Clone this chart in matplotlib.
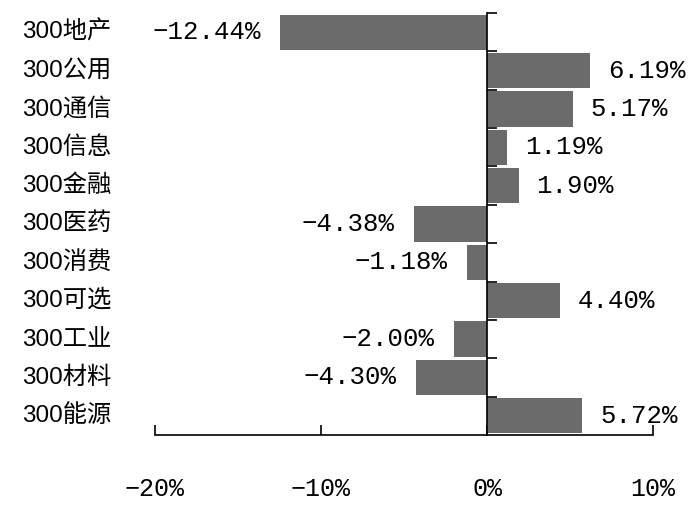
import numpy as np
import matplotlib
matplotlib.use("Agg")
import matplotlib.pyplot as plt
from matplotlib.ticker import FixedLocator

# data (top to bottom)
categories = ["300地产", "300公用", "300通信", "300信息", "300金融", "300医药",
              "300消费", "300可选", "300工业", "300材料", "300能源"]
returns = [-12.44, 6.19, 5.17, 1.19, 1.90, -4.38, -1.18, 4.40, -2.00, -4.30, 5.72]
xticks = [-20, -10, 0, 10]

num_font = ["Liberation Mono", "DejaVu Sans Mono"]
cat_font = ["Liberation Sans", "Noto Sans CJK SC"]
bar_color = "#6b6b6b"


def pct(v, fmt):
    # long minus sign like the original
    return (fmt % v).replace("-", "\u2212") + "%"


fig = plt.figure(figsize=(7.0, 5.15), dpi=100)
ax = fig.add_axes([155 / 700, 1 - 435 / 515, 498 / 700, 422 / 515])

y = np.arange(len(categories))
ax.barh(y, returns, height=0.92, color=bar_color, zorder=2)

ax.set_xlim(-20, 10)
ax.set_ylim(len(categories) - 0.5, -0.5)

# spines: vertical one at zero, bottom one as the value axis
ax.spines["top"].set_visible(False)
ax.spines["right"].set_visible(False)
ax.spines["left"].set_position(("data", 0))
for s in ("left", "bottom"):
    ax.spines[s].set_linewidth(1.2)
    ax.spines[s].set_color("black")
    ax.spines[s].set_zorder(3)

ax.set_xticks(xticks)
ax.set_xticklabels([pct(v, "%d") for v in xticks], fontsize=18, family=num_font)
ax.tick_params(axis="x", direction="in", length=7, width=1.2, pad=30)

ax.yaxis.set_major_locator(FixedLocator(np.arange(-0.5, len(categories) - 0.5, 1)))
ax.set_yticklabels([])
ax.tick_params(axis="y", direction="in", length=7, width=1.2)

# category names on the far left
for i, name in enumerate(categories):
    ax.text(-0.267, i, name, transform=ax.get_yaxis_transform(),
            ha="left", va="center", fontsize=17.5, family=cat_font)

# value labels
for i, v in enumerate(returns):
    off = 13 if v >= 0 else -14
    ax.annotate(pct(v, "%.2f"), xy=(v, i), xytext=(off, 0), textcoords="offset points",
                ha="left" if v >= 0 else "right", va="center",
                fontsize=18.5, family=num_font)

fig.savefig("out.png", dpi=100)
